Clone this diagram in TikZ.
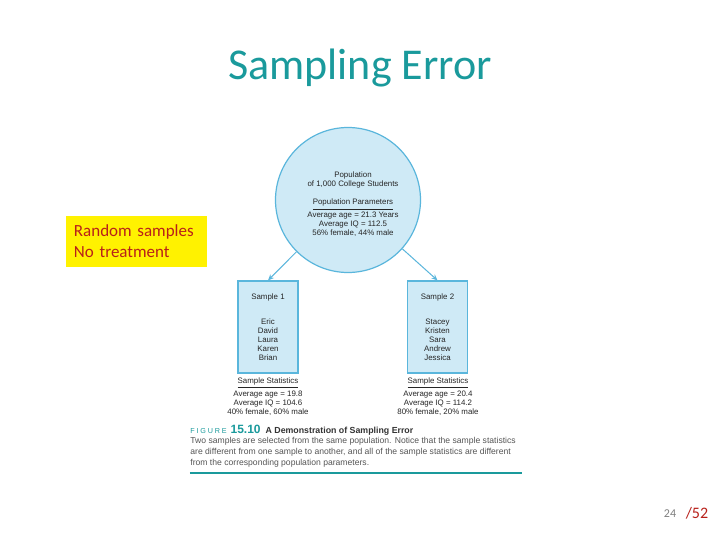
\documentclass[tikz,border=0pt]{standalone}
\usepackage{fontspec}
\setmainfont{Carlito}
\newfontfamily\arial{Liberation Sans}
\usetikzlibrary{arrows.meta}
\definecolor{teal1}{HTML}{1A9A9C}
\definecolor{cfill}{HTML}{CFEAF6}
\definecolor{cdraw}{HTML}{5AB6DC}
\definecolor{redt}{HTML}{B8201A}
\definecolor{capgray}{HTML}{555555}
\tikzset{
  small/.style={font=\arial\fontsize{3.95}{4.5}\selectfont, align=center, inner sep=0pt, text=black!85},
  sbox/.style={draw=cdraw, fill=cfill, line width=0.6pt, minimum width=30pt, minimum height=46pt, inner sep=0pt},
  conn/.style={draw=cdraw, line width=0.5pt, -{Stealth[length=3pt,width=2.6pt]}},
  capline/.style={font=\arial\fontsize{4.3}{5}\selectfont, text=capgray, anchor=west, inner sep=0pt}
}
\begin{document}
\begin{tikzpicture}[x=0.5pt,y=-0.5pt]
\useasboundingbox[fill=white] (0,0) rectangle (720,540);
% title
\node[font=\fontsize{22}{26}\selectfont, text=teal1] (title) at (360,68) {Sampling Error};
% yellow box
\node[fill=yellow, minimum width=70.5pt, minimum height=25.5pt, text width=62.5pt, inner xsep=4pt, inner ysep=0pt, align=left,
      font=\fontsize{8.5}{10.5}\selectfont, text=redt] (note) at (136.5,241.5) {Random samples\\No treatment};
% population circle
\node[circle, draw=cdraw, fill=cfill, line width=0.6pt, minimum size=72.5pt, inner sep=0pt] (pop) at (348,200) {};
\node[small] (poptext) at (353,204.5) {Population\\of 1,000 College Students\\[4.5pt]\underline{Population Parameters}\\Average age = 21.3 Years\\Average IQ = 112.5\\56\% female, 44\% male};
% sample boxes
\node[sbox] (s1) at (268,327) {};
\node[sbox] (s2) at (437.5,327) {};
\node[small] (s1t) at (268,297) {Sample 1};
\node[small] (s2t) at (437.5,297) {Sample 2};
\node[small] (s1n) at (268,340) {Eric\\David\\Laura\\Karen\\Brian};
\node[small] (s2n) at (437.5,340) {Stacey\\Kristen\\Sara\\Andrew\\Jessica};
\node[small] (st1) at (268,396.5) {\underline{Sample Statistics}\\Average age = 19.8\\Average IQ = 104.6\\40\% female, 60\% male};
\node[small] (st2) at (438,396.5) {\underline{Sample Statistics}\\Average age = 20.4\\Average IQ = 114.2\\80\% female, 20\% male};
% connectors
\draw[conn] (pop) -- (s1.north);
\draw[conn] (pop) -- (s2.north);
% caption
\node[anchor=west, inner sep=0pt] (caphead) at (190,430)
  {{\arial\fontsize{3.6}{4}\selectfont\addfontfeature{LetterSpace=25}\color{teal1}FIGURE}\hspace{2pt}{\arial\bfseries\fontsize{6}{7}\selectfont\color{teal1}15.10}\hspace{2.5pt}{\arial\bfseries\fontsize{4.4}{5}\selectfont\color{black!80}A Demonstration of Sampling Error}};
\node[capline] (cap1) at (190,441) {Two samples are selected from the same population. Notice that the sample statistics};
\node[capline] (cap2) at (190,452) {are different from one sample to another, and all of the sample statistics are different};
\node[capline] (cap3) at (190,463) {from the corresponding population parameters.};
\coordinate (rl) at (190,473);
\coordinate (rr) at (522,473);
\draw[teal1, line width=1pt] (rl) -- (rr);
% page number
\node[font=\fontsize{6}{7}\selectfont, text=gray] (pg) at (670,514) {24};
\node[font=\fontsize{8}{9}\selectfont, text=redt] (tot) at (697,513) {/52};
\end{tikzpicture}
\end{document}
